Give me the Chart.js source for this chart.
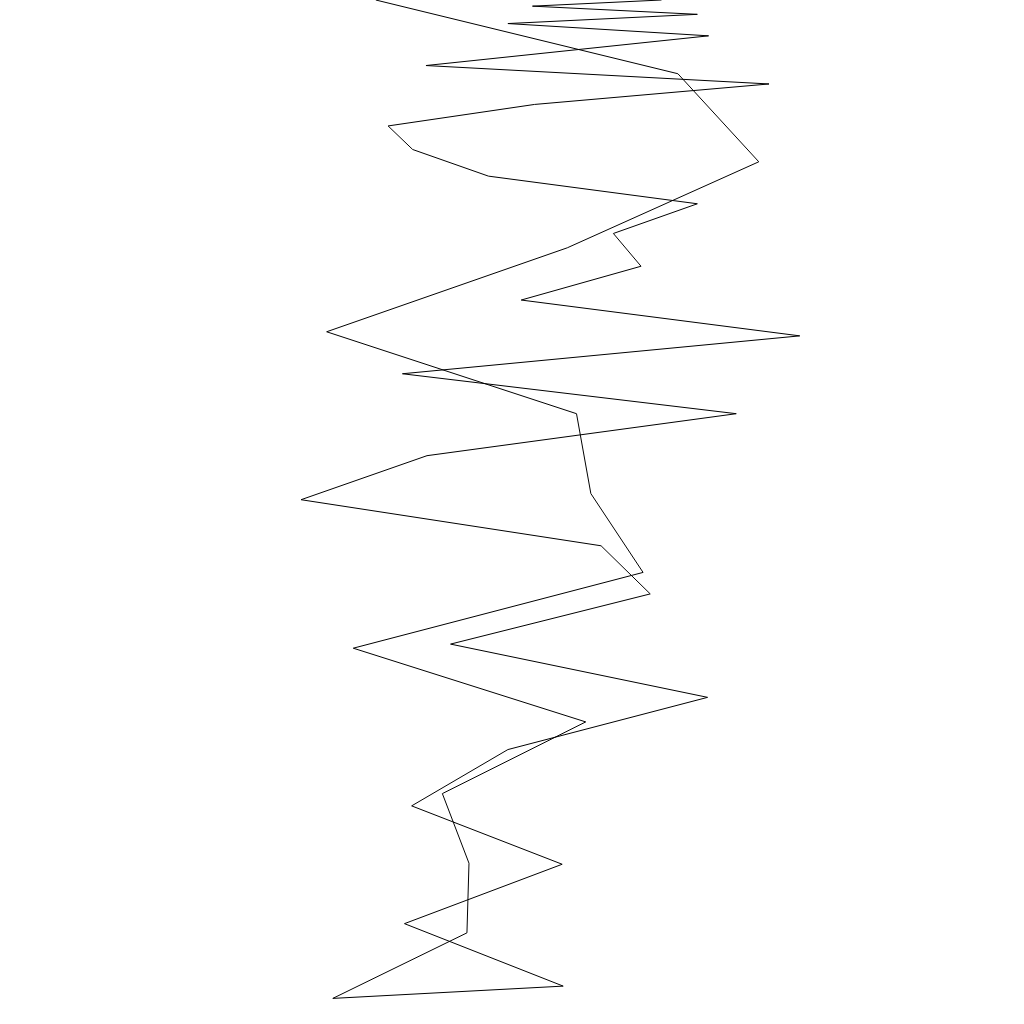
<!DOCTYPE html>
<html>
<head>
<meta charset="utf-8">
<style>
html,body{margin:0;padding:0;background:#fff;}
#wrap{width:1024px;height:1024px;}
</style>
<script src="https://cdn.jsdelivr.net/npm/chart.js@4/dist/chart.umd.min.js"></script>
</head>
<body>
<div id="wrap"><canvas id="c" width="1024" height="1024"></canvas></div>
<script>
const xValues = [36.7,66.2,74.1,55.4,31.9,56.3,57.7,62.8,34.5,57.2,43.2,45.8,45.6,32.5,55.0,39.5,54.9,40.2,49.6,69.1,44.0,63.5,58.7,29.4,41.7,71.9,39.3,78.1,50.9,62.6,59.9,68.1,47.7,40.3,37.9,52.2,75.1,41.6,69.2,49.6,68.1,52.0,64.6];
const yValues = [100,92.8,84.2,75.8,67.6,59.6,51.8,44.1,36.7,29.5,22.5,15.7,8.9,2.5,3.7,9.8,15.6,21.3,26.8,31.9,37.1,42.0,46.7,51.2,55.5,59.6,63.5,67.2,70.7,74.0,77.2,80.1,82.8,85.4,87.7,89.8,91.8,93.6,96.5,97.7,98.6,99.4,100];
const axisRange = [0, 100];

const points = xValues.map((x, i) => ({x: x, y: yValues[i]}));

new Chart(document.getElementById('c'), {
  type: 'scatter',
  data: {
    datasets: [{
      data: points,
      showLine: true,
      borderColor: '#000000',
      borderWidth: 1,
      pointRadius: 0,
      pointHoverRadius: 0,
      fill: false,
      tension: 0
    }]
  },
  options: {
    responsive: false,
    animation: false,
    layout: {padding: 0},
    plugins: {legend: {display: false}, tooltip: {enabled: false}},
    scales: {
      x: {type: 'linear', min: axisRange[0], max: axisRange[1], display: false},
      y: {type: 'linear', min: axisRange[0], max: axisRange[1], display: false}
    }
  }
});
</script>
</body>
</html>
